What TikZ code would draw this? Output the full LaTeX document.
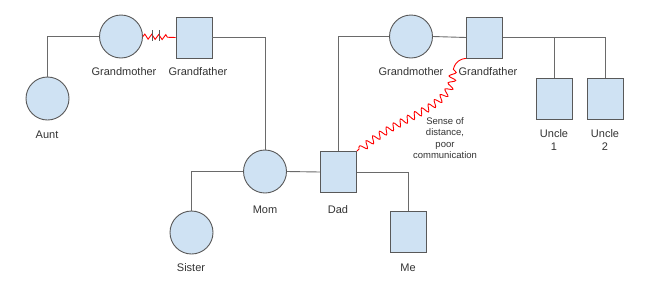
\documentclass[tikz,border=0pt]{standalone}
\usepackage{fontspec}
\setmainfont{Liberation Sans}
\usetikzlibrary{decorations.pathmorphing}
\definecolor{kinfill}{HTML}{CFE2F3}
\definecolor{kinline}{HTML}{595959}
\definecolor{kintext}{HTML}{333333}
\begin{document}
\begin{tikzpicture}[x=1pt,y=-1pt,line width=.9pt,
  female/.style={circle,draw=kinline,fill=kinfill,minimum size=43pt,inner sep=0pt},
  male/.style={rectangle,draw=kinline,fill=kinfill,minimum width=36pt,minimum height=41pt,inner sep=0pt},
  tag/.style={text=kintext,font=\fontsize{11}{13}\selectfont,align=center},
  tie/.style={draw=kinline!90}]
\useasboundingbox[fill=white](0,0)rectangle(650,298);
% father's side
\node[female](gmL)at(121,36.5){};\node[male](gfL)at(194,37.5){};\node[female](aunt)at(47.5,98.5){};
% mother's side
\node[female](gmR)at(411,36.5){};\node[male](gfR)at(484.5,37.5){};
\node[male](unc1)at(554,98.5){};\node[male](unc2)at(605,98.5){};
% parents and children
\node[female](mom)at(265,171.5){};\node[male](dad)at(338.5,172){};
\node[female](sister)at(191.5,232.5){};\node[male](me)at(408,232){};
% connectors
\draw[tie](gmL.west)-|(aunt.north);\draw[tie](gfL.east)-|(mom.north);
\draw[tie](gmR.west)-|(dad.north);\draw[tie](gmR.east)--(gfR.west);
\draw[tie](gfR.east)-|(unc2.north);\draw[tie](unc1.north)--(unc1.north|-gfR.east);
\draw[tie](mom.west)-|(sister.north);\draw[tie](mom.east)--(dad.west);\draw[tie](dad.east)-|(me.north);
\draw[red,decorate,decoration={zigzag,segment length=7pt,amplitude=2.5pt,post length=7pt}](gmL.east)--(gfL.west);
\draw[kinline,line width=1pt](152,30)--(152,41);\draw[kinline,line width=1pt](159,30)--(159,41);
\draw[red,decorate,decoration={snake,segment length=8pt,amplitude=3.5pt,pre=curveto,pre length=18pt}]
  (gfR.south west)..controls(458,59)and(453,65)..(453,73)..controls(453,86)and(446,93)..(433,103)
  ..controls(415,115)and(385,125)..(dad.north east);
% labels
\node[tag](lgmL)at(124,72){Grandmother};\node[tag](lgfL)at(198,72){Grandfather};
\node[tag](launt)at(47,135){Aunt};
\node[tag](lgmR)at(411,72){Grandmother};\node[tag](lgfR)at(488,72){Grandfather};
\node[tag](lunc1)at(554,140.5){Uncle\\1};\node[tag](lunc2)at(605,140.5){Uncle\\2};
\node[tag](lmom)at(265,210){Mom};\node[tag](ldad)at(338,210){Dad};
\node[tag](lsister)at(191,268){Sister};\node[tag](lme)at(408,268){Me};
\node[tag,font=\fontsize{9.5}{11.5}\selectfont](note)at(445,138){Sense of\\distance,\\poor\\communication};
\end{tikzpicture}
\end{document}
